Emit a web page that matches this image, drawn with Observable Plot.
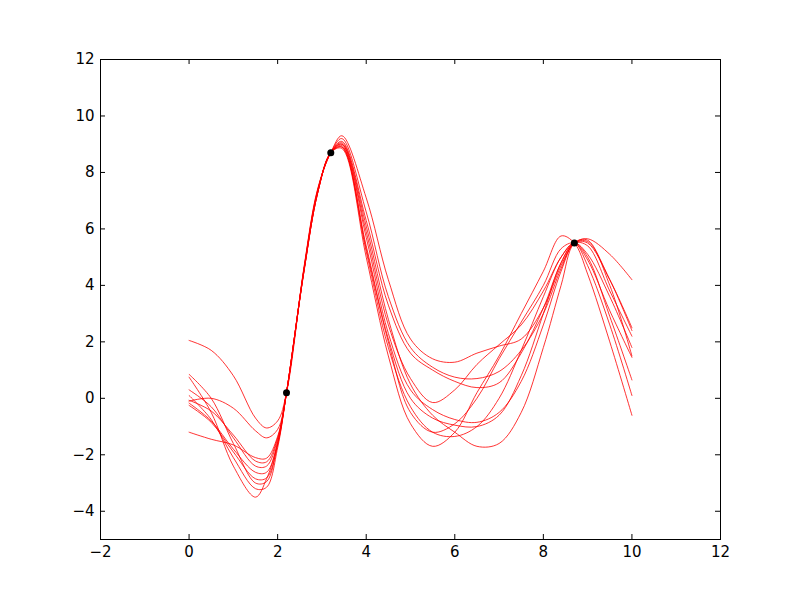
<!DOCTYPE html>
<html>
<head>
<meta charset="utf-8">
<script src="https://cdn.jsdelivr.net/npm/d3@7"></script>
<script src="https://cdn.jsdelivr.net/npm/@observablehq/plot@0.6"></script>
<style>
  html, body { margin: 0; padding: 0; background: white; }
</style>
</head>
<body>
<div id="chart"></div>
<script>
// Sample grid shared by all curves
const xs = [0, 0.5, 1, 1.5, 1.75, 2, 2.2, 2.6, 2.9, 3.2, 3.45, 4, 4.5, 5, 5.5, 6, 6.5, 7, 7.5, 8, 8.4, 8.7, 9, 9.5, 10];

// Ten posterior sample curves
const curve1  = [2.05, 1.7, 0.8, -0.7, -1.05, -0.8, 0.2, 4.7, 7.4, 8.7, 9.3, 7.1, 4.2, 2.1, 1.4, 1.28, 1.6, 1.85, 2.1, 3.2, 4.7, 5.5, 5.65, 5.1, 4.2];
const curve2  = [-0.1, 0.0, -0.35, -1.15, -1.4, -1.1, 0.2, 4.65, 7.35, 8.7, 9.2, 6.6, 3.6, 1.8, 1.1, 0.75, 0.7, 0.95, 1.7, 3.0, 4.6, 5.5, 5.5, 4.2, 2.5];
const curve3  = [-1.2, -1.45, -1.65, -2.1, -2.12, -1.35, 0.2, 4.6, 7.3, 8.7, 9.1, 6.3, 3.3, 1.6, 1.0, 0.6, 0.38, 0.55, 1.6, 3.2, 4.8, 5.5, 5.4, 3.8, 2.2];
const curve4  = [0.85, 0.0, -1.6, -3.0, -2.95, -1.6, 0.2, 4.6, 7.3, 8.7, 9.0, 5.9, 2.6, 0.7, -0.15, 0.3, 1.2, 1.9, 2.6, 3.8, 5.0, 5.5, 5.1, 3.6, 1.8];
const curve5  = [0.75, -0.5, -2.4, -3.5, -2.85, -1.6, 0.2, 4.55, 7.25, 8.7, 8.95, 5.3, 2.0, -0.5, -1.2, -0.9, 0.0, 1.4, 2.7, 4.0, 5.3, 5.5, 4.9, 3.1, 1.45];
const curve6  = [0.3, -0.3, -1.4, -2.4, -2.4, -1.45, 0.2, 4.6, 7.25, 8.7, 8.85, 5.0, 1.5, -0.9, -1.7, -1.2, 0.2, 1.5, 3.0, 4.5, 5.75, 5.5, 4.4, 2.0, -0.6];
const curve7  = [0.1, -0.75, -2.1, -3.2, -3.15, -1.75, 0.2, 4.55, 7.25, 8.7, 8.9, 5.2, 1.8, -0.3, -1.2, -1.35, -1.0, 0.0, 1.7, 3.6, 5.0, 5.5, 4.7, 2.6, 0.1];
const curve8  = [-0.07, -0.45, -1.3, -2.22, -2.25, -1.4, 0.2, 4.65, 7.35, 8.7, 9.05, 6.1, 2.8, 0.5, -0.6, -1.2, -1.7, -1.6, -0.5, 1.8, 4.0, 5.5, 5.6, 4.0, 1.5];
const curve9  = [-0.17, -0.8, -1.8, -2.62, -2.62, -1.55, 0.2, 4.6, 7.3, 8.7, 9.0, 5.7, 2.3, 0.3, -0.4, -0.75, -0.85, -0.5, 0.6, 2.6, 4.5, 5.5, 5.55, 4.2, 2.4];
const curve10 = [-0.25, -0.85, -1.9, -2.85, -2.82, -1.65, 0.2, 4.55, 7.25, 8.7, 8.9, 5.4, 2.1, 0.0, -0.7, -0.95, -1.0, -0.6, 0.8, 3.0, 4.8, 5.5, 5.0, 2.9, 0.65];

// Observed points
const obsX = [2.2, 3.2, 8.7];
const obsY = [0.2, 8.7, 5.5];

// Axis ticks
const xTicks = [-2, 0, 2, 4, 6, 8, 10, 12];
const yTicks = [-4, -2, 0, 2, 4, 6, 8, 10, 12];

const curves = [curve1, curve2, curve3, curve4, curve5, curve6, curve7, curve8, curve9, curve10];
const lineData = curves.flatMap((ys, i) => ys.map((y, j) => ({x: xs[j], y, s: i})));
const obs = obsX.map((x, i) => ({x, y: obsY[i]}));

const W = 800, H = 600, mL = 100, mR = 80, mT = 59, mB = 61;
const innerW = W - mL - mR, innerH = H - mT - mB, tickLen = 5;

const chart = Plot.plot({
  width: W, height: H,
  marginLeft: mL, marginRight: mR, marginTop: mT, marginBottom: mB,
  x: {domain: [-2, 12]},
  y: {domain: [-5, 12]},
  style: {fontFamily: "'DejaVu Sans', sans-serif", fontSize: "15px", background: "white", color: "black"},
  marks: [
    Plot.line(lineData, {x: "x", y: "y", z: "s", stroke: "red", strokeWidth: 0.8, curve: "catmull-rom"}),
    Plot.dot(obs, {x: "x", y: "y", fill: "black", r: 3.5}),
    Plot.frame({stroke: "black", strokeWidth: 1}),
    Plot.tickX(xTicks, {x: d => d, insetTop: innerH - tickLen, stroke: "black"}),
    Plot.tickX(xTicks, {x: d => d, insetBottom: innerH - tickLen, stroke: "black"}),
    Plot.tickY(yTicks, {y: d => d, insetRight: innerW - tickLen, stroke: "black"}),
    Plot.tickY(yTicks, {y: d => d, insetLeft: innerW - tickLen, stroke: "black"}),
    Plot.axisX({ticks: xTicks, tickSize: 0, tickPadding: 7, label: null}),
    Plot.axisY({ticks: yTicks, tickSize: 0, tickPadding: 6, label: null})
  ]
});
document.getElementById("chart").appendChild(chart);
</script>
</body>
</html>
